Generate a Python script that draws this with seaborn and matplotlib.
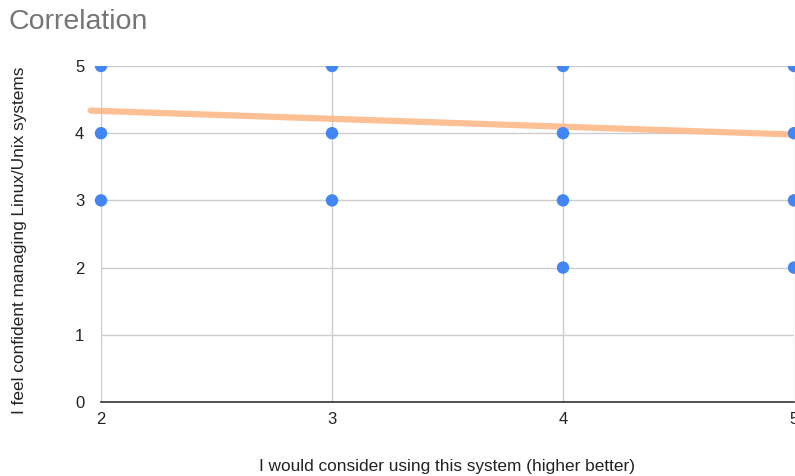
import matplotlib
matplotlib.use("Agg")
import matplotlib.pyplot as plt
from matplotlib.transforms import Bbox, TransformedBbox
import numpy as np
import pandas as pd
import seaborn as sns

# Survey responses (unique answer pairs)
consider_using = [2, 2, 2, 3, 3, 3, 4, 4, 4, 4, 5, 5, 5, 5]
confident_linux = [5, 4, 3, 5, 4, 3, 5, 4, 3, 2, 5, 4, 3, 2]

# Linear trendline fitted to the responses
trend_slope = -0.117
trend_intercept = 4.565
trend_x = [1.955, 5.05]

x_ticks = [2, 3, 4, 5]
y_ticks = [0, 1, 2, 3, 4, 5]

sns.set_theme(style="white")
plt.rcParams["font.family"] = ["Liberation Sans", "DejaVu Sans"]

df = pd.DataFrame({"x": consider_using, "y": confident_linux})
trend_df = pd.DataFrame({"x": trend_x})
trend_df["y"] = trend_slope * trend_df["x"] + trend_intercept

fig = plt.figure(figsize=(7.95, 4.76), dpi=100)
ax = fig.add_axes([101 / 795, 74 / 476, 693 / 795, 336 / 476])

ax.set_xlim(2, 5)
ax.set_ylim(0, 5)
ax.set_xticks(x_ticks)
ax.set_yticks(y_ticks)

for v in x_ticks:
    ax.axvline(v, color="#cccccc", lw=1, zorder=0)
for v in y_ticks[1:]:
    ax.axhline(v, color="#cccccc", lw=1, zorder=0)

sns.lineplot(data=trend_df, x="x", y="y", ax=ax, color="#fdb98a",
             lw=4.5, alpha=0.9, zorder=2)
ax.lines[-1].set_clip_on(False)

sns.scatterplot(data=df, x="x", y="y", ax=ax, color="#4285f4", s=80,
                edgecolor="none", zorder=3)
clip = TransformedBbox(Bbox([[1.8, -0.5], [5.3, 5.0]]), ax.transData)
for coll in ax.collections:
    coll.set_clip_box(clip)

for side in ["top", "right", "left"]:
    ax.spines[side].set_visible(False)
ax.spines["bottom"].set_color("#333333")
ax.spines["bottom"].set_linewidth(1.2)
ax.spines["bottom"].set_zorder(1)

ax.tick_params(axis="both", length=0, labelsize=12, labelcolor="#222222")
ax.tick_params(axis="y", pad=12)
ax.tick_params(axis="x", pad=7)

ax.set_xlabel("I would consider using this system (higher better)",
              fontsize=12.4, color="#222222")
ax.set_ylabel("I feel confident managing Linux/Unix systems",
              fontsize=12.4, color="#222222")
# place axis titles in pixel positions of the figure
ax.xaxis.set_label_coords(447 / 795, 10 / 476, transform=fig.transFigure)
ax.yaxis.set_label_coords(20 / 795, 1 - 240 / 476, transform=fig.transFigure)
ax.xaxis.label.set_va("center")
ax.yaxis.label.set_va("center")

fig.text(8 / 795, 1 - 22 / 476, "Correlation", fontsize=20.5, color="#757575",
         va="center", ha="left")

fig.savefig("out.png", dpi=100)
